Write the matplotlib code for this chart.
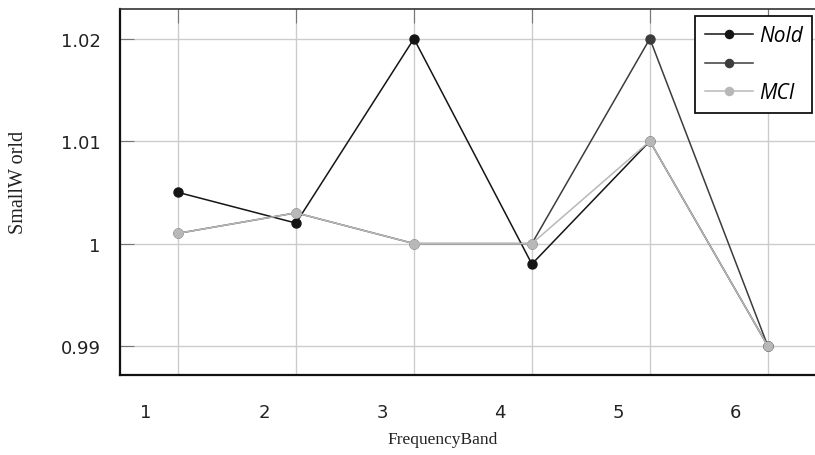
import matplotlib
matplotlib.use("Agg")
import matplotlib.pyplot as plt
from matplotlib.transforms import ScaledTranslation

bands = [1, 2, 3, 4, 5, 6]
tick_labels = ["1", "2", "3", "4", "5", "6"]
nold = [1.005, 1.002, 1.020, 0.998, 1.010, 0.990]
group2 = [1.001, 1.003, 1.000, 1.000, 1.020, 0.990]
mci = [1.001, 1.003, 1.000, 1.000, 1.010, 0.990]
y_ticks = [0.99, 1.00, 1.01, 1.02]
y_tick_labels = ["0.99", "1", "1.01", "1.02"]

fig = plt.figure(figsize=(8.15, 4.56), dpi=100)
ax = fig.add_axes([120/815, 1-376/456, 695/815, 366/456])

l2, = ax.plot(bands, group2, color="#3c3c3c", lw=1.1, marker="o", ms=6.5, zorder=3, label=" ")
l1, = ax.plot(bands, nold, color="#151515", lw=1.1, marker="o", ms=6.5, zorder=4, label="Nold")
l3, = ax.plot(bands, mci, color="#b8b8b8", lw=1.1, marker="o", ms=6.5, zorder=5, label="MCI")

ax.set_xlim(0.508, 6.40)
ax.set_ylim(0.98717, 1.0229)

ax.set_xticks(bands)
ax.set_xticklabels(tick_labels, fontsize=13, family="DejaVu Sans", color="#222222")
ax.set_yticks(y_ticks)
ax.set_yticklabels(y_tick_labels, fontsize=13, family="DejaVu Sans", color="#222222")

ax.grid(True, color="#cccccc", lw=1.0, zorder=0)
ax.set_axisbelow(True)

ax.tick_params(axis="x", bottom=False, top=True, labelbottom=True, direction="in",
               length=10, color="#777777", pad=20)
ax.tick_params(axis="y", left=True, right=False, direction="in", length=10,
               color="#777777", pad=14)

off = ScaledTranslation(-32/100, 0, fig.dpi_scale_trans)
for lab in ax.get_xticklabels():
    lab.set_transform(lab.get_transform() + off)

for side in ["left", "bottom"]:
    ax.spines[side].set_linewidth(1.6)
    ax.spines[side].set_color("#111111")
ax.spines["top"].set_linewidth(1.2)
ax.spines["top"].set_color("#333333")
ax.spines["right"].set_visible(False)

ax.set_xlabel("FrequencyBand", family="Liberation Serif", fontsize=12.5, color="#222222")
ax.xaxis.label.set_va("center")
ax.xaxis.set_label_coords((443-120)/695, -(440-376)/366)
ax.set_ylabel("SmallW orld", family="Liberation Serif", fontsize=14.5, color="#222222")
ax.yaxis.label.set_va("center")
ax.yaxis.set_label_coords((18-120)/695, (376-182)/366)

leg = fig.legend(handles=[l1, l2, l3], loc="upper right",
                 bbox_to_anchor=(812/815, 1-17/456), frameon=True, fancybox=False,
                 edgecolor="#111111", framealpha=1, handlelength=2.3, handletextpad=0.3,
                 labelspacing=0.36, borderpad=0.45, borderaxespad=0, markerscale=0.9,
                 prop={"family": "Open Sans", "style": "italic", "size": 15})
leg.get_frame().set_linewidth(1.3)

fig.savefig("out.png", dpi=100)
